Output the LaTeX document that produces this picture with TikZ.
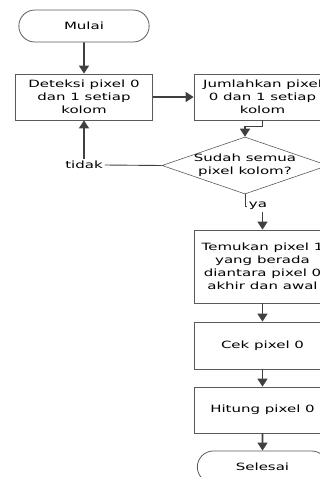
\documentclass[tikz,border=0pt]{standalone}
\usepackage{fontspec}
\setmainfont{DejaVu Sans}[FakeStretch=1.5]
\usetikzlibrary{shapes.misc,shapes.geometric,arrows.meta}
\definecolor{garis}{HTML}{404040}
\definecolor{tepi}{HTML}{5A5A5A}

\begin{document}
\begin{tikzpicture}
	[x=1pt, y=-1pt,
	every node/.style={font=\fontsize{10}{13}\selectfont, align=center},
	box/.style={rectangle, draw=tepi, line width=0.8pt, minimum width=137pt, inner sep=2pt},
	term/.style={rounded rectangle, draw=tepi, line width=0.8pt, minimum width=137pt, minimum height=32pt},
	cond/.style={diamond, draw=tepi, line width=0.6pt, minimum width=166pt, minimum height=57pt, inner sep=-15pt, shape aspect=3},
	lbl/.style={inner sep=2pt},
	arr/.style={draw=garis, line width=1.6pt, -{Triangle[length=8pt,width=10pt]}},
	line/.style={draw=garis, line width=0.9pt}]
	\path [use as bounding box, clip] (0,0) rectangle (320,477);
	\node (mulai) [term] at (84,26) {Mulai};
	\node (deteksi) [box, minimum height=46pt] at (84,97) {Deteksi pixel 0\\dan 1 setiap\\kolom};
	\node (jumlah) [box, minimum height=46pt] at (262.5,97) {Jumlahkan pixel\\0 dan 1 setiap\\kolom};
	\node (sudah) [cond] at (245,165.5) {Sudah semua\\pixel kolom?};
	\node (tidak) [lbl] at (84,165) {tidak};
	\node (ya) [lbl] at (258,206) {ya};
	\node (temukan) [box, minimum height=73pt] at (262.5,266.5) {Temukan pixel 1\\yang berada\\diantara pixel 0\\akhir dan awal};
	\node (cek) [box, minimum height=47pt] at (262.5,345.5) {Cek pixel 0};
	\node (hitung) [box, minimum height=46pt] at (262.5,410) {Hitung pixel 0};
	\node (selesai) [term] at (262.5,467) {Selesai};
	\draw [arr] (mulai) -- (deteksi);
	\draw [arr] (deteksi) -- (jumlah);
	\draw [arr] (jumlah.south) -- ++(0,6) -| (sudah.north);
	\draw [line] (sudah.west) -- (tidak.east);
	\draw [arr] (tidak.north) -- (deteksi.south);
	\draw [line] (sudah.south) |- (ya.west);
	\draw [arr] (ya.south -| temukan.north) -- (temukan.north);
	\draw [arr] (temukan) -- (cek);
	\draw [arr] (cek) -- (hitung);
	\draw [arr] (hitung) -- (selesai);
\end{tikzpicture}
\end{document}
